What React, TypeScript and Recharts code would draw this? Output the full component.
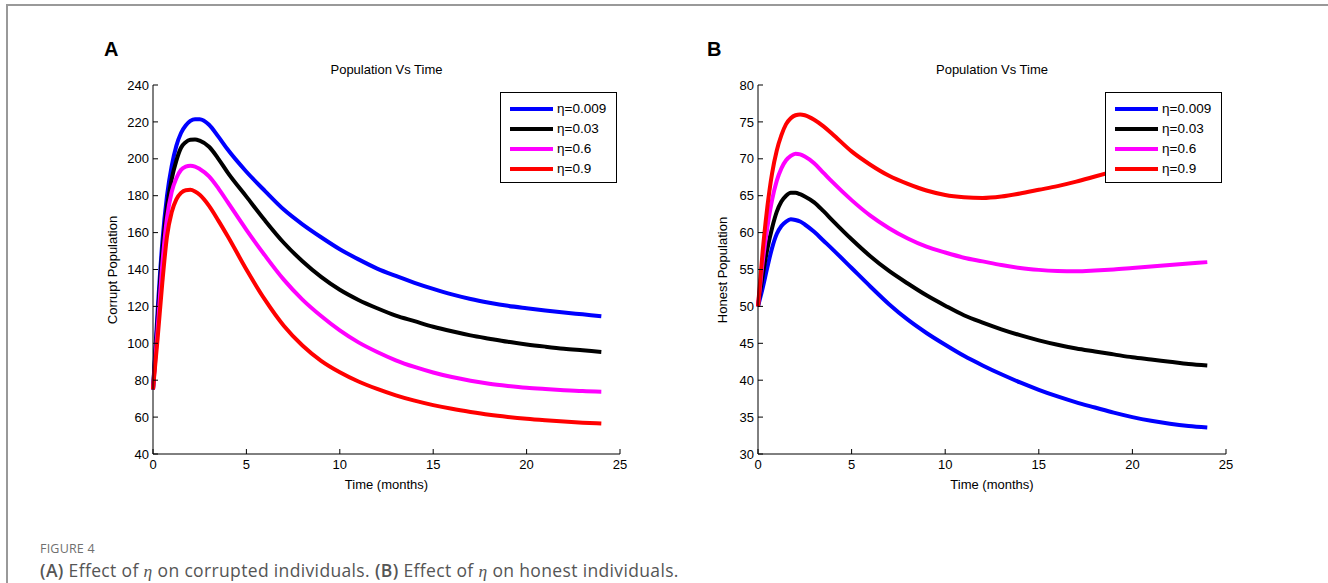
import React from 'react';
import { LineChart, Line, XAxis, YAxis, Legend } from 'recharts';

const TIME = [0, 0.25, 0.5, 0.75, 1, 1.25, 1.5, 1.75, 2, 2.25, 2.5, 3, 3.5, 4, 5, 6, 7, 8, 9, 10, 11, 12, 13, 14, 15, 16, 17, 18, 19, 20, 21, 22, 23, 24];

const ETA_LABELS = ['η=0.009', 'η=0.03', 'η=0.6', 'η=0.9'];
const COLORS = ['#0000ff', '#000000', '#ff00ff', '#ff0000'];

// Panel A: corrupt population
const CORRUPT_ETA_0009 = [75, 118, 155, 180, 196, 207, 214, 218, 220.5, 221.5, 221.5, 218.5, 212, 205, 193, 182.5, 172.5, 164.5, 157.5, 151, 145.5, 140.5, 136.5, 132.8, 129.5, 126.5, 124, 122, 120.3, 119, 117.8, 116.7, 115.7, 114.7];
const CORRUPT_ETA_003 = [75, 113, 150, 174, 189, 199, 206, 209, 210.3, 210.5, 209.8, 206.5, 200, 192.5, 179.5, 166.5, 154.5, 144.5, 136, 129, 123.5, 119, 115, 112, 109, 106.5, 104.3, 102.5, 100.8, 99.4, 98.2, 97.1, 96.2, 95.3];
const CORRUPT_ETA_06 = [75, 108, 143, 168, 182, 189.5, 194, 195.7, 196.2, 195.8, 194.5, 190.5, 184, 176.5, 161.5, 147.5, 134.5, 123.7, 114.8, 107, 100.5, 95.3, 90.8, 87.2, 84.2, 81.7, 79.7, 78.1, 76.9, 75.9, 75.2, 74.6, 74.1, 73.8];
const CORRUPT_ETA_09 = [75, 103, 133, 158, 171, 178, 181.5, 183, 183.2, 182.3, 180.5, 174.5, 166.5, 158, 140, 123.5, 109.5, 98.8, 90.5, 84.3, 79.3, 75.3, 71.8, 68.9, 66.5, 64.5, 62.8, 61.3, 60.1, 59.1, 58.3, 57.6, 57, 56.5];

// Panel B: honest population
const HONEST_ETA_0009 = [50, 52.5, 55.3, 57.9, 59.8, 60.9, 61.5, 61.8, 61.7, 61.5, 61.1, 60.1, 58.9, 57.7, 55.2, 52.7, 50.3, 48.2, 46.4, 44.8, 43.3, 42, 40.8, 39.7, 38.7, 37.8, 37, 36.3, 35.6, 35, 34.5, 34.1, 33.8, 33.6];
const HONEST_ETA_003 = [50, 54.2, 57.8, 60.6, 62.8, 64.2, 65, 65.4, 65.4, 65.2, 64.9, 64.1, 62.9, 61.6, 59.1, 56.8, 54.8, 53.1, 51.5, 50.1, 48.8, 47.8, 46.9, 46.1, 45.4, 44.8, 44.3, 43.9, 43.5, 43.1, 42.8, 42.5, 42.2, 42];
const HONEST_ETA_06 = [50, 56, 60.7, 64.4, 67, 68.7, 69.8, 70.4, 70.7, 70.6, 70.3, 69.4, 68.1, 66.8, 64.4, 62.3, 60.6, 59.2, 58.1, 57.3, 56.6, 56.1, 55.6, 55.2, 54.95, 54.8, 54.75, 54.85, 55, 55.2, 55.4, 55.6, 55.8, 56];
const HONEST_ETA_09 = [50, 57.5, 63.5, 68, 71.1, 73.2, 74.7, 75.5, 75.9, 76, 75.9, 75.3, 74.4, 73.3, 71, 69.2, 67.7, 66.6, 65.7, 65.1, 64.8, 64.7, 64.9, 65.3, 65.8, 66.3, 66.9, 67.6, 68.3, 69, 69.7, 70.4, 71.1, 71.8];

const X_TICKS = [0, 5, 10, 15, 20, 25];
const CORRUPT_TICKS = [40, 60, 80, 100, 120, 140, 160, 180, 200, 220, 240];
const HONEST_TICKS = [30, 35, 40, 45, 50, 55, 60, 65, 70, 75, 80];

const KEYS = ['s0', 's1', 's2', 's3'];

function buildRows(series: number[][]) {
  return TIME.map((t, i) => {
    const row: any = { t };
    series.forEach((s, k) => {
      row[KEYS[k]] = s[i];
    });
    return row;
  });
}

const AXIS_FONT = '"Liberation Sans", Arial, sans-serif';
const TICK_LEN = 5;
const X_MARGIN = 6;
const Y_MARGIN = 4;

// Inward MATLAB-style ticks, drawn with the label
const BottomTick = (p: any) => {
  const axisY = p.y - X_MARGIN;
  return (
    <g>
      <line x1={p.x} x2={p.x} y1={axisY} y2={axisY - TICK_LEN} stroke="#000" />
      <text x={p.x} y={p.y} dy="0.71em" textAnchor="middle" fill="#000" fontSize={13} fontFamily={AXIS_FONT}>
        {p.payload.value}
      </text>
    </g>
  );
};
const LeftTick = (p: any) => {
  const axisX = p.x + Y_MARGIN;
  return (
    <g>
      <line x1={axisX} x2={axisX + TICK_LEN} y1={p.y} y2={p.y} stroke="#000" />
      <text x={p.x} y={p.y} dy="0.355em" textAnchor="end" fill="#000" fontSize={13} fontFamily={AXIS_FONT}>
        {p.payload.value}
      </text>
    </g>
  );
};
const TopTick = (p: any) => <line x1={p.x} x2={p.x} y1={p.y} y2={p.y + TICK_LEN} stroke="#000" />;
const RightTick = (p: any) => <line x1={p.x} x2={p.x - TICK_LEN} y1={p.y} y2={p.y} stroke="#000" />;

const LegendBox = () => (
  <div
    style={{
      width: 117,
      height: 91,
      border: '1px solid #000',
      background: '#fff',
      boxSizing: 'border-box',
      padding: '6px 0 0 9px',
      fontFamily: AXIS_FONT,
      fontSize: 13.5,
      color: '#000',
    }}
  >
    {ETA_LABELS.map((lab, i) => (
      <div key={lab} style={{ display: 'flex', alignItems: 'center', height: 20 }}>
        <div style={{ width: 43, height: 4, background: COLORS[i] }} />
        <span style={{ marginLeft: 4, lineHeight: '20px' }}>{lab}</span>
      </div>
    ))}
  </div>
);

type PanelProps = {
  left: number;
  yWidth: number;
  rightMargin: number;
  domain: [number, number];
  ticks: number[];
  series: number[][];
  legendLeft: number;
};

const CHART_W = 560;
const CHART_H = 440;
const CHART_TOP = 60;

function Panel({ left, yWidth, rightMargin, domain, ticks, series, legendLeft }: PanelProps) {
  const data = buildRows(series);
  return (
    <div style={{ position: 'absolute', left, top: CHART_TOP, width: CHART_W, height: CHART_H }}>
      <LineChart width={CHART_W} height={CHART_H} data={data} margin={{ top: 25, right: rightMargin, left: 0, bottom: 0 }}>
        <XAxis
          dataKey="t"
          type="number"
          domain={[0, 25]}
          ticks={X_TICKS}
          interval={0}
          height={46}
          tickSize={0}
          tickMargin={X_MARGIN}
          tick={<BottomTick />}
          tickLine={false}
          axisLine={{ stroke: '#000' }}
        />
        <XAxis
          xAxisId="top"
          orientation="top"
          dataKey="t"
          type="number"
          domain={[0, 25]}
          ticks={X_TICKS}
          interval={0}
          height={0}
          tickSize={0}
          tickMargin={0}
          tick={<TopTick />}
          tickLine={false}
          axisLine={{ stroke: '#000' }}
        />
        <YAxis
          type="number"
          domain={domain}
          ticks={ticks}
          interval={0}
          width={yWidth}
          tickSize={0}
          tickMargin={Y_MARGIN}
          tick={<LeftTick />}
          tickLine={false}
          axisLine={{ stroke: '#000' }}
        />
        <YAxis
          yAxisId="right"
          orientation="right"
          type="number"
          domain={domain}
          ticks={ticks}
          interval={0}
          width={0}
          tickSize={0}
          tickMargin={0}
          tick={<RightTick />}
          tickLine={false}
          axisLine={{ stroke: '#000' }}
        />
        {KEYS.map((k, i) => (
          <Line
            key={k}
            dataKey={k}
            name={ETA_LABELS[i]}
            type="monotone"
            stroke={COLORS[i]}
            strokeWidth={4}
            dot={false}
            activeDot={false}
            isAnimationActive={false}
          />
        ))}
        <Legend
          layout="vertical"
          align="center"
          verticalAlign="middle"
          content={<LegendBox />}
          wrapperStyle={{ left: legendLeft, top: 32, width: 117, height: 91 }}
        />
      </LineChart>
    </div>
  );
}

const textBase: React.CSSProperties = {
  position: 'absolute',
  fontFamily: AXIS_FONT,
  fontSize: 13,
  color: '#000',
  whiteSpace: 'nowrap',
};

const CAPTION_FONT = '"Open Sans", sans-serif';
const ETA_FONT = '"Liberation Serif", "DejaVu Serif", serif';

export default function App() {
  return (
    <div style={{ position: 'absolute', left: 0, top: 0, width: 1328, height: 583, background: '#fff', overflow: 'hidden' }}>
      {/* frame */}
      <div style={{ position: 'absolute', left: 6, top: 4, width: 1322, height: 2, background: '#999' }} />
      <div style={{ position: 'absolute', left: 6, top: 4, width: 2, height: 579, background: '#999' }} />

      {/* Panel A */}
      <div style={{ ...textBase, left: 104, top: 38, fontSize: 20, fontWeight: 'bold' }}>A</div>
      <div style={{ ...textBase, left: 153, width: 467, top: 62, textAlign: 'center' }}>Population Vs Time</div>
      <div style={{ ...textBase, left: 112, top: 270, transform: 'translate(-50%, -50%) rotate(-90deg)' }}>Corrupt Population</div>
      <div style={{ ...textBase, left: 153, width: 467, top: 477, textAlign: 'center' }}>Time (months)</div>
      <Panel
        left={90}
        yWidth={63}
        rightMargin={30}
        domain={[40, 240]}
        ticks={CORRUPT_TICKS}
        series={[CORRUPT_ETA_0009, CORRUPT_ETA_003, CORRUPT_ETA_06, CORRUPT_ETA_09]}
        legendLeft={410}
      />

      {/* Panel B */}
      <div style={{ ...textBase, left: 707, top: 38, fontSize: 20, fontWeight: 'bold' }}>B</div>
      <div style={{ ...textBase, left: 758, width: 468, top: 62, textAlign: 'center' }}>Population Vs Time</div>
      <div style={{ ...textBase, left: 722, top: 270, transform: 'translate(-50%, -50%) rotate(-90deg)' }}>Honest Population</div>
      <div style={{ ...textBase, left: 758, width: 468, top: 477, textAlign: 'center' }}>Time (months)</div>
      <Panel
        left={700}
        yWidth={58}
        rightMargin={34}
        domain={[30, 80]}
        ticks={HONEST_TICKS}
        series={[HONEST_ETA_0009, HONEST_ETA_003, HONEST_ETA_06, HONEST_ETA_09]}
        legendLeft={405}
      />

      {/* Caption */}
      <div style={{ position: 'absolute', left: 40, top: 540, fontFamily: CAPTION_FONT, fontSize: 12.5, color: '#6f6f6f', letterSpacing: 0.2 }}>
        FIGURE 4
      </div>
      <div style={{ position: 'absolute', left: 40, top: 558, fontFamily: CAPTION_FONT, fontSize: 17.5, letterSpacing: 0.35, color: '#555', whiteSpace: 'nowrap', lineHeight: '24px' }}>
        <span style={{ fontWeight: 600 }}>(A)</span> Effect of{' '}
        <span style={{ fontFamily: ETA_FONT, fontStyle: 'italic' }}>η</span> on corrupted individuals.{' '}
        <span style={{ fontWeight: 600 }}>(B)</span> Effect of{' '}
        <span style={{ fontFamily: ETA_FONT, fontStyle: 'italic' }}>η</span> on honest individuals.
      </div>
    </div>
  );
}
